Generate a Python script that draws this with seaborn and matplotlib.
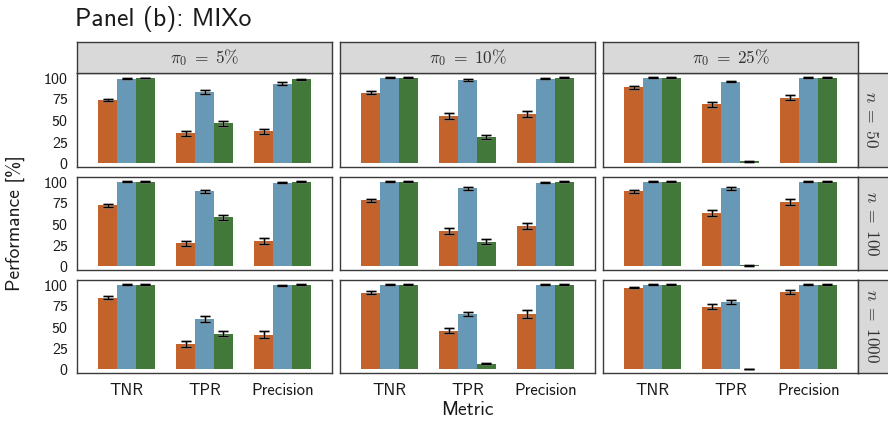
import matplotlib
matplotlib.use("Agg")
import matplotlib.pyplot as plt
import seaborn as sns
import pandas as pd

# Facet levels
metrics = ["TNR", "TPR", "Precision"]
methods = ["Method A", "Method B", "Method C"]
pi0_levels = ["5", "10", "25"]
n_levels = [50, 100, 1000]

# Mean performance [%] indexed as [n][pi0][metric]
a_mean = [[[74, 35, 37], [82.5, 55, 57.5], [88.5, 69, 76.5]],
          [[72, 27, 29.5], [78, 41, 47.5], [88.5, 62.5, 75.5]],
          [[84.5, 30, 40.5], [90.5, 45.5, 65.5], [96.5, 74, 91.5]]]
b_mean = [[[99, 83, 93], [100, 97, 99], [100, 95.5, 100]],
          [[100, 88.5, 98.8], [100, 92, 98.8], [100, 92, 100]],
          [[100, 59.5, 99], [100, 65.5, 100], [100, 79.5, 100]]]
c_mean = [[[99.7, 46.5, 98], [100, 30.5, 100], [100, 2, 100]],
          [[100, 58, 100], [100, 28.5, 100], [100, 0.8, 100]],
          [[100, 42, 100], [100, 6.3, 100], [100, 0.3, 100]]]

# Error bar half-widths, same layout
a_err = [[[1.5, 3, 3], [1.5, 3.5, 3.5], [1.5, 3, 3]],
         [[1.5, 3, 3.5], [2, 3.5, 4], [1.5, 3.5, 3.5]],
         [[2, 3.5, 4], [1.5, 3, 4.5], [1, 2.5, 2.5]]]
b_err = [[[0.5, 2, 1.5], [0.3, 1, 0.5], [0.3, 1, 0.3]],
         [[0.3, 1.5, 0.5], [0.3, 1.5, 0.5], [0.3, 1.5, 0.3]],
         [[0.3, 3.5, 0.5], [0.3, 2.5, 0.3], [0.3, 2, 0.3]]]
c_err = [[[0.3, 3, 1], [0.3, 2.5, 0.3], [0.3, 0.5, 0.3]],
         [[0.3, 3, 0.3], [0.3, 3, 0.3], [0.3, 0.3, 0.3]],
         [[0.3, 2.5, 0.3], [0.3, 1, 0.3], [0.3, 0.2, 0.3]]]

palette = {"Method A": "#C3622B", "Method B": "#6799B7", "Method C": "#42783A"}

records = []
for method, means, errs in zip(methods, [a_mean, b_mean, c_mean], [a_err, b_err, c_err]):
    for ri, n in enumerate(n_levels):
        for ci, p in enumerate(pi0_levels):
            for k, met in enumerate(metrics):
                records.append(dict(method=method, n=n, pi0=p, metric=met,
                                    value=means[ri][ci][k], err=errs[ri][ci][k]))
df = pd.DataFrame(records)

sns.set_style("white")
plt.rcParams["font.family"] = ["cmss10", "DejaVu Sans"]
plt.rcParams["mathtext.fontset"] = "cm"
plt.rcParams["axes.unicode_minus"] = False
plt.rcParams["axes.formatter.use_mathtext"] = True

W, H = 888, 424
fig = plt.figure(figsize=(W / 100, H / 100), dpi=100)


def box(x0, y0, x1, y1):
    return [x0 / W, 1 - y1 / H, (x1 - x0) / W, (y1 - y0) / H]


col_x = [(77, 332), (340, 595), (603, 858)]
row_y = [(73, 167), (177, 270), (280, 373)]
frame = "#3a3a3a"
strip_fill = "#D9D9D9"

for ri, n in enumerate(n_levels):
    for ci, p in enumerate(pi0_levels):
        x0, x1 = col_x[ci]
        y0, y1 = row_y[ri]
        ax = fig.add_axes(box(x0, y0, x1, y1))
        sub = df[(df.n == n) & (df.pi0 == p)]
        sns.barplot(data=sub, x="metric", y="value", hue="method",
                    order=metrics, hue_order=methods, palette=palette,
                    errorbar=None, width=0.72, saturation=1, linewidth=0,
                    legend=False, ax=ax)
        for container, method in zip(ax.containers, methods):
            msub = sub[sub.method == method].set_index("metric").loc[metrics]
            bars = sorted(container.patches, key=lambda b: b.get_x())
            xs = [b.get_x() + b.get_width() / 2 for b in bars]
            ax.errorbar(xs, msub["value"], yerr=msub["err"], fmt="none",
                        ecolor="#909090", elinewidth=2.0, capsize=3.6,
                        capthick=2.0, alpha=0.6, zorder=3)
            ax.errorbar(xs, msub["value"], yerr=msub["err"], fmt="none",
                        ecolor="black", elinewidth=0.9, capsize=3.6,
                        capthick=0.9, zorder=4)
        ax.set_xlim(-0.635, 2.635)
        ax.set_ylim(-4.8, 105.5)
        ax.set_yticks([0, 25, 50, 75, 100])
        ax.set_xlabel("")
        ax.set_ylabel("")
        for s in ax.spines.values():
            s.set_color(frame)
            s.set_linewidth(1.0)
        ax.tick_params(axis="both", length=3, width=0.8, color=frame,
                       labelcolor="#1a1a1a")
        ax.tick_params(axis="y", pad=3, labelsize=11.5)
        ax.tick_params(axis="x", pad=4, labelsize=12)
        if ci != 0:
            ax.tick_params(axis="y", left=False, labelleft=False)
        if ri != len(n_levels) - 1:
            ax.tick_params(axis="x", bottom=False, labelbottom=False)

        # column strip
        if ri == 0:
            sax = fig.add_axes(box(x0, 42, x1, 73))
            sax.set_facecolor(strip_fill)
            sax.set_xticks([])
            sax.set_yticks([])
            for s in sax.spines.values():
                s.set_color(frame)
                s.set_linewidth(1.0)
            sax.text(0.5, 0.5, r"$\pi_0\;=\;%s\%%$" % p, ha="center", va="center",
                     fontsize=12.5, color="#333333", transform=sax.transAxes)
        # row strip
        if ci == len(pi0_levels) - 1:
            rax = fig.add_axes(box(858, y0, 889, y1))
            rax.set_facecolor(strip_fill)
            rax.set_xticks([])
            rax.set_yticks([])
            for s in rax.spines.values():
                s.set_color(frame)
                s.set_linewidth(1.0)
            rax.text(0.45, 0.5, r"$n\;=\;%d$" % n, ha="center", va="center",
                     rotation=-90, fontsize=12.5, color="#333333",
                     transform=rax.transAxes)

fig.text(75 / W, 1 - 19 / H, "Panel (b): MIXo", ha="left", va="center",
         fontsize=18.5, color="#1a1a1a")
fig.text(467.5 / W, 1 - 410 / H, "Metric", ha="center", va="center",
         fontsize=14, color="#1a1a1a")
fig.text(15 / W, 1 - 223 / H, "Performance [%]", ha="center", va="center",
         rotation=90, fontsize=14, color="#1a1a1a")

fig.savefig("out.png", dpi=100)
